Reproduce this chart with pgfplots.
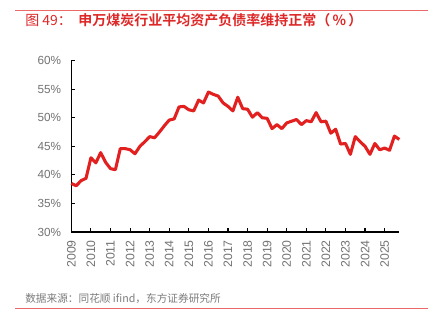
\documentclass[border=0pt]{standalone}
\usepackage{pgfplots}
\pgfplotsset{compat=1.18}
\usepackage{fontspec}
\setmainfont{Liberation Sans}
\newfontfamily\cjk{Noto Sans CJK SC}
\newfontfamily\cjkb{Noto Sans CJK SC Bold}
\definecolor{cred}{RGB}{226,32,32}
\definecolor{tred}{RGB}{222,40,40}
\definecolor{lred}{RGB}{235,105,105}
\definecolor{tgray}{RGB}{115,115,115}
\definecolor{sgray}{RGB}{125,125,125}
\begin{document}
\begin{tikzpicture}[x=0.75pt,y=0.75pt]
\path[use as bounding box,fill=white] (0,0) rectangle (436,322);
\draw[lred,line width=0.7pt] (15,312) -- (428,312);
\draw[lred,line width=0.7pt] (15,13.7) -- (428,13.7);
\node[anchor=west,inner sep=0pt,text=tred,font=\cjk\fontsize{10.5pt}{12pt}\selectfont] at (25,302) {图 49：};
\node[anchor=west,inner sep=0pt,text=tred,font=\cjkb\fontsize{10.5pt}{12pt}\selectfont] at (78,302) {申万煤炭行业平均资产负债率维持正常（\,\%\,）};
\node[anchor=west,inner sep=0pt,text=sgray,font=\cjk\fontsize{8pt}{9pt}\selectfont] at (25,23.7) {数据来源：同花顺 ifind，东方证券研究所};
\begin{axis}[
  at={(53.5pt,67.5pt)}, anchor=south west,
  scale only axis, width=246pt, height=128.5pt,
  xmin=2009, xmax=2025.75, ymin=30, ymax=60,
  axis lines=left, axis line style={-, black, line width=0.9pt},
  xtick={2009,...,2025}, ytick={30,35,...,60},
  tick style={black, line width=0.8pt}, tick align=inside,
  major tick length=3pt,
  /pgf/number format/assume math mode=true,
  /pgf/number format/1000 sep={},
  yticklabel={\pgfmathprintnumber{\tick}\%},
  yticklabel style={font=\fontsize{8.8pt}{10pt}\selectfont, text=tgray, inner sep=0pt, xshift=-7.5pt},
  xticklabel style={font=\fontsize{9.2pt}{10pt}\selectfont, text=tgray, rotate=90, anchor=east, inner sep=0pt, yshift=0pt, xshift=0pt},
  xticklabel shift=6pt,
  clip=false,
]
\addplot[cred, line width=2.3pt, line join=round] coordinates {
(2009.00,38.5)(2009.25,38.1)(2009.50,39.0)(2009.75,39.4)
(2010.00,43.0)(2010.25,42.1)(2010.50,43.9)(2010.75,42.2)
(2011.00,41.1)(2011.25,40.9)(2011.50,44.6)(2011.75,44.6)
(2012.00,44.4)(2012.25,43.7)(2012.50,45.0)(2012.75,45.8)
(2013.00,46.7)(2013.25,46.5)(2013.50,47.5)(2013.75,48.6)
(2014.00,49.6)(2014.25,49.8)(2014.50,51.9)(2014.75,52.0)
(2015.00,51.4)(2015.25,51.2)(2015.50,53.1)(2015.75,52.6)
(2016.00,54.5)(2016.25,54.1)(2016.50,53.8)(2016.75,52.6)
(2017.00,52.0)(2017.25,51.2)(2017.50,53.6)(2017.75,51.6)
(2018.00,51.5)(2018.25,50.1)(2018.50,50.9)(2018.75,50.0)
(2019.00,49.9)(2019.25,48.1)(2019.50,48.8)(2019.75,48.1)
(2020.00,49.1)(2020.25,49.4)(2020.50,49.7)(2020.75,48.8)
(2021.00,49.5)(2021.25,49.3)(2021.50,50.9)(2021.75,49.3)
(2022.00,49.4)(2022.25,47.3)(2022.50,48.0)(2022.75,45.4)
(2023.00,45.5)(2023.25,43.6)(2023.50,46.7)(2023.75,45.8)
(2024.00,45.0)(2024.25,43.6)(2024.50,45.5)(2024.75,44.4)
(2025.00,44.7)(2025.25,44.3)(2025.50,46.8)(2025.75,46.2)
};
\end{axis}
\end{tikzpicture}
\end{document}
